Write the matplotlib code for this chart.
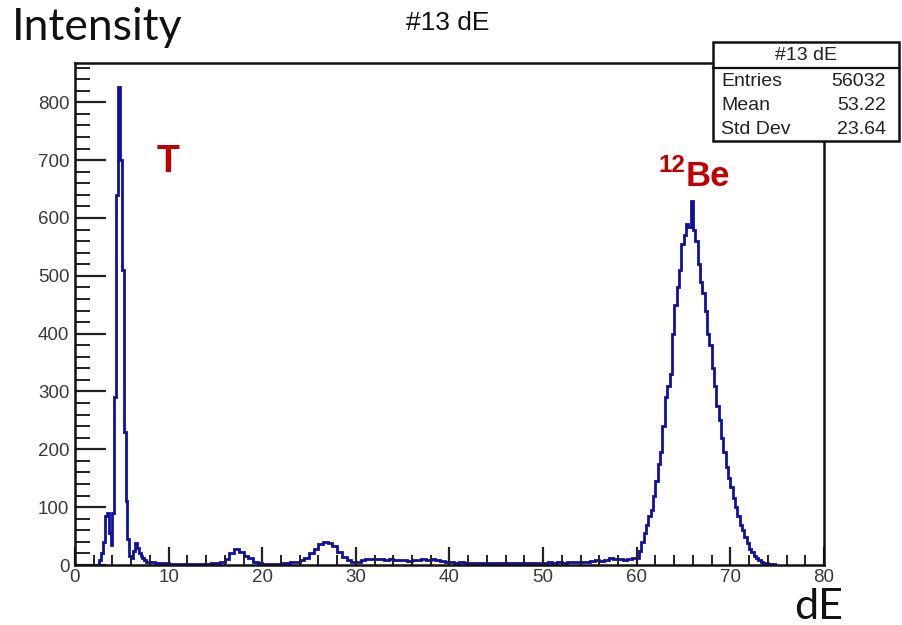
import numpy as np
import matplotlib
matplotlib.use("Agg")
import matplotlib.pyplot as plt
from matplotlib.patches import Rectangle
from matplotlib.lines import Line2D

# ---------------- data ----------------
# segment A: 2.4 - 8.0, bin width 0.2
seg_a_start, seg_a_width = 2.4, 0.2
seg_a_counts = [0, 8, 20, 40, 85, 90, 55, 35, 90, 290, 640, 826, 700, 510,
                230, 110, 45, 15, 12, 25, 38, 30, 20, 15, 12, 8, 6, 5]
# segment B: 8.0 - 60.0, bin width 0.5
seg_b_start, seg_b_width = 8.0, 0.5
seg_b_counts = [5, 4, 3, 3, 2, 2, 2, 2, 2, 2, 2, 2, 2, 3, 3, 5, 10, 20, 28, 22,
                15, 12, 6, 3, 2, 2, 2, 2, 3, 4, 5, 6, 8, 12, 20, 28, 36, 40, 38, 32,
                22, 14, 8, 5, 5, 9, 10, 10, 11, 10, 9, 10, 8, 9, 8, 7, 9, 8, 10, 9,
                10, 8, 7, 6, 5, 4, 5, 4, 3, 4, 3, 4, 3, 3, 4, 3, 3, 4, 3, 3,
                4, 3, 4, 3, 4, 5, 4, 5, 4, 5, 5, 6, 5, 6, 7, 8, 7, 9, 12, 10,
                11, 9, 10, 12]
# segment C: 60.0 - 75.0, bin width 0.25
seg_c_start, seg_c_width = 60.0, 0.25
seg_c_counts = [12, 25, 40, 55, 70, 85, 95, 120, 145, 175, 195, 240, 290, 310, 330,
                400, 450, 480, 510, 555, 570, 590, 585, 630, 580, 560, 520, 490, 470, 440,
                400, 380, 340, 310, 275, 250, 220, 195, 170, 150, 135, 115, 100, 85, 70,
                60, 48, 38, 28, 22, 16, 12, 8, 6, 4, 3, 2, 1, 1, 0]

hist_title = "#13 dE"
stat_labels = ["Entries", "Mean", "Std Dev"]
stat_values = ["56032", "53.22", "23.64"]
x_ticks = [0, 10, 20, 30, 40, 50, 60, 70, 80]
y_ticks = [0, 100, 200, 300, 400, 500, 600, 700, 800]

# build bin edges / counts
edges_a = seg_a_start + seg_a_width * np.arange(len(seg_a_counts) + 1)
edges_b = seg_b_start + seg_b_width * np.arange(1, len(seg_b_counts) + 1)
edges_c = seg_c_start + seg_c_width * np.arange(1, len(seg_c_counts) + 1)
edges = np.concatenate([edges_a, edges_b, edges_c])
counts = np.array(seg_a_counts + seg_b_counts + seg_c_counts, dtype=float)

# ---------------- figure ----------------
W, H = 902, 625
fig = plt.figure(figsize=(W / 100, H / 100), dpi=100)
fig.patch.set_facecolor("white")
ax = fig.add_axes([75 / W, 1 - 565 / H, (824 - 75) / W, (565 - 63) / H])

ax.stairs(counts, edges, color="#0f0fa0", linewidth=2.0)

ax.set_xlim(0, 80)
ax.set_ylim(0, 868)
ax.set_xticks(x_ticks)
ax.set_yticks(y_ticks)
ax.set_xticks(np.arange(0, 81, 2), minor=True)
ax.set_yticks(np.arange(0, 861, 20), minor=True)

lab_font = dict(family=["Liberation Sans", "DejaVu Sans"], size=13.5)
ax.set_xticklabels([str(t) for t in x_ticks], color="#3a3a3a", **lab_font)
ax.set_yticklabels([str(t) for t in y_ticks], color="#3a3a3a", **lab_font)
ax.tick_params(axis="both", which="both", direction="in", top=False, right=False,
               color="#222222")
ax.tick_params(axis="x", which="major", length=13, width=1.6, pad=3)
ax.tick_params(axis="x", which="minor", length=7, width=1.4)
ax.tick_params(axis="y", which="major", length=22, width=1.6, pad=4)
ax.tick_params(axis="y", which="minor", length=11, width=1.4)
for s in ax.spines.values():
    s.set_linewidth(1.8)
    s.set_color("#111111")

# annotations
bold_font = dict(family=["Liberation Sans", "DejaVu Sans"], fontweight="bold", color="#c00000")
ax.text(9.9, 697, "T", fontsize=27, ha="center", va="center", **bold_font)
ax.text(65.2, 672, "Be", fontsize=25, ha="left", va="center", **bold_font)
ax.text(65.2, 690, "12", fontsize=17.5, ha="right", va="center", **bold_font)

# outer labels
fig.text(12 / W, 1 - 28 / H, "Intensity", fontsize=32, family=["Lato", "DejaVu Sans"],
         color="#111111", ha="left", va="center")
fig.text(843 / W, 1 - 619 / H, "dE", fontsize=31, family=["Lato", "DejaVu Sans"],
         color="#111111", ha="right", va="baseline")
fig.text(448 / W, 1 - 23 / H, hist_title, fontsize=19,
         family=["Liberation Sans", "DejaVu Sans"], color="#111111",
         ha="center", va="center")

# stats box
bx0, bx1, by0, by1 = 713, 899, 42, 141
box = Rectangle((bx0 / W, 1 - by1 / H), (bx1 - bx0) / W, (by1 - by0) / H,
                transform=fig.transFigure, facecolor="white", edgecolor="#111111",
                linewidth=1.8, zorder=10)
fig.add_artist(box)
fig.add_artist(Line2D([bx0 / W, bx1 / W], [1 - 68 / H, 1 - 68 / H],
                      transform=fig.transFigure, color="#111111", linewidth=1.6, zorder=11))
sfont = dict(family=["Liberation Sans", "DejaVu Sans"], size=14, color="#222222", zorder=12)
fig.text((bx0 + bx1) / 2 / W, 1 - 56 / H, hist_title, ha="center", va="center", **sfont)
row_y = [82, 105, 129]
for lab, val, ry in zip(stat_labels, stat_values, row_y):
    fig.text(721 / W, 1 - ry / H, lab, ha="left", va="center", **sfont)
    fig.text(886 / W, 1 - ry / H, val, ha="right", va="center", **sfont)

fig.savefig("out.png", dpi=100)
